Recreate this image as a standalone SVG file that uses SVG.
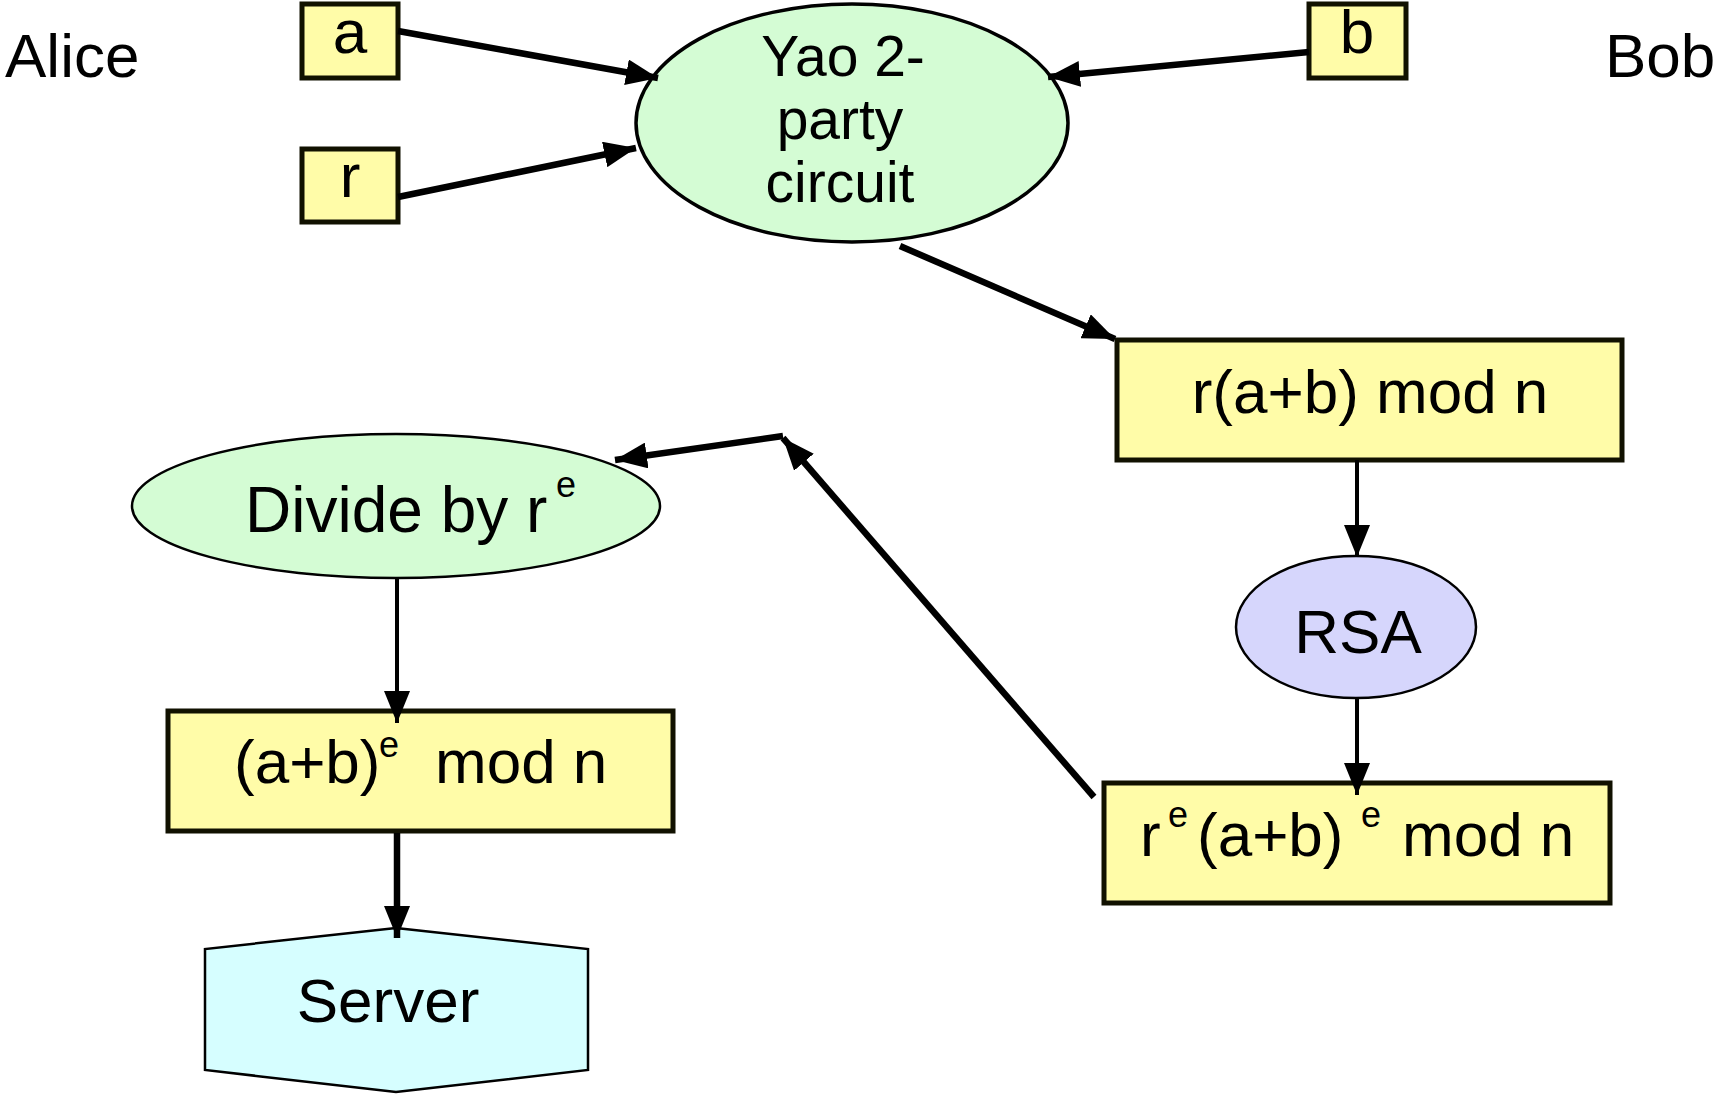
<svg xmlns="http://www.w3.org/2000/svg" width="1715" height="1095" viewBox="0 0 1715 1095">
<defs>
<style>
text{font-family:"Liberation Sans",Arial,sans-serif;font-size:62px;fill:#000}
.mid{text-anchor:middle}
.sup{font-size:36px}
.yao{font-size:57px}
.box{fill:#fffca8;stroke:#111100;stroke-width:5}
.green{fill:#d4fcd4;stroke:#000}
.conn{stroke:#000;fill:none}
.thick{stroke-width:6.5}
.thin{stroke-width:4}
</style>
<marker id="ah" viewBox="0 0 10 10" refX="10" refY="5" markerWidth="32" markerHeight="26" markerUnits="userSpaceOnUse" orient="auto" preserveAspectRatio="none">
<path d="M0,0 L10,5 L0,10 z" fill="#000"/>
</marker>
</defs>
<rect width="1715" height="1095" fill="#fff"/>
<g id="label-alice"><text x="5" y="77">Alice</text></g>
<g id="label-bob"><text x="1605" y="77">Bob</text></g>
<g id="node-a"><rect class="box" x="302" y="4" width="96" height="74"/><text class="mid" x="350" y="53">a</text></g>
<g id="node-r"><rect class="box" x="302" y="149" width="96" height="73"/><text class="mid" x="350" y="197">r</text></g>
<g id="node-b"><rect class="box" x="1309" y="4" width="97" height="74"/><text class="mid" x="1357" y="53">b</text></g>
<g id="node-yao"><ellipse class="green" stroke-width="3.5" cx="852" cy="123" rx="216" ry="119"/>
<text class="mid yao" x="843" y="76">Yao 2-</text><text class="mid yao" x="840" y="139">party</text><text class="mid yao" x="840" y="202">circuit</text></g>
<g id="node-rab"><rect class="box" x="1117" y="340" width="505" height="120"/><text class="mid" x="1370" y="413">r(a+b) mod n</text></g>
<g id="node-rsa"><ellipse fill="#d6d6fc" stroke="#000" stroke-width="2.5" cx="1356" cy="627" rx="120" ry="71"/><text class="mid" x="1358" y="653">RSA</text></g>
<g id="node-reab"><rect class="box" x="1104" y="783" width="506" height="120"/>
<text x="1140" y="856">r</text><text class="sup" x="1168" y="827">e</text><text x="1197" y="856">(a+b)</text><text class="sup" x="1361" y="827">e</text><text x="1402" y="856">mod n</text></g>
<g id="node-divide"><ellipse class="green" stroke-width="2.5" cx="396" cy="506" rx="264" ry="72"/>
<text x="245" y="532" style="font-size:64px">Divide by r</text><text class="sup" x="556" y="497">e</text></g>
<g id="node-abe"><rect class="box" x="168" y="711" width="505" height="120"/>
<text x="234" y="783">(a+b)</text><text class="sup" x="379" y="757">e</text><text x="435" y="783">mod n</text></g>
<g id="node-server"><polygon fill="#d6feff" stroke="#000" stroke-width="2.5" points="396,928 588,949 588,1070 396,1092 205,1070 205,949"/><text class="mid" x="388" y="1022">Server</text></g>
<g id="connectors">
<line class="conn thick" x1="398" y1="31" x2="658" y2="78" marker-end="url(#ah)"/>
<line class="conn thick" x1="398" y1="197" x2="636" y2="148" marker-end="url(#ah)"/>
<line class="conn thick" x1="1309" y1="52" x2="1048" y2="77" marker-end="url(#ah)"/>
<line class="conn thick" x1="900" y1="246" x2="1115" y2="339" marker-end="url(#ah)"/>
<line class="conn thin" x1="1357" y1="460" x2="1357" y2="557" marker-end="url(#ah)"/>
<line class="conn thin" x1="1357" y1="698" x2="1357" y2="795" marker-end="url(#ah)"/>
<line class="conn thick" x1="1094" y1="797" x2="783" y2="438" marker-end="url(#ah)"/>
<line class="conn thick" x1="783" y1="436" x2="615" y2="460" marker-end="url(#ah)"/>
<line class="conn thin" x1="397" y1="578" x2="397" y2="723" marker-end="url(#ah)"/>
<line class="conn thick" x1="397" y1="833" x2="397" y2="938" marker-end="url(#ah)"/>
</g>
</svg>
